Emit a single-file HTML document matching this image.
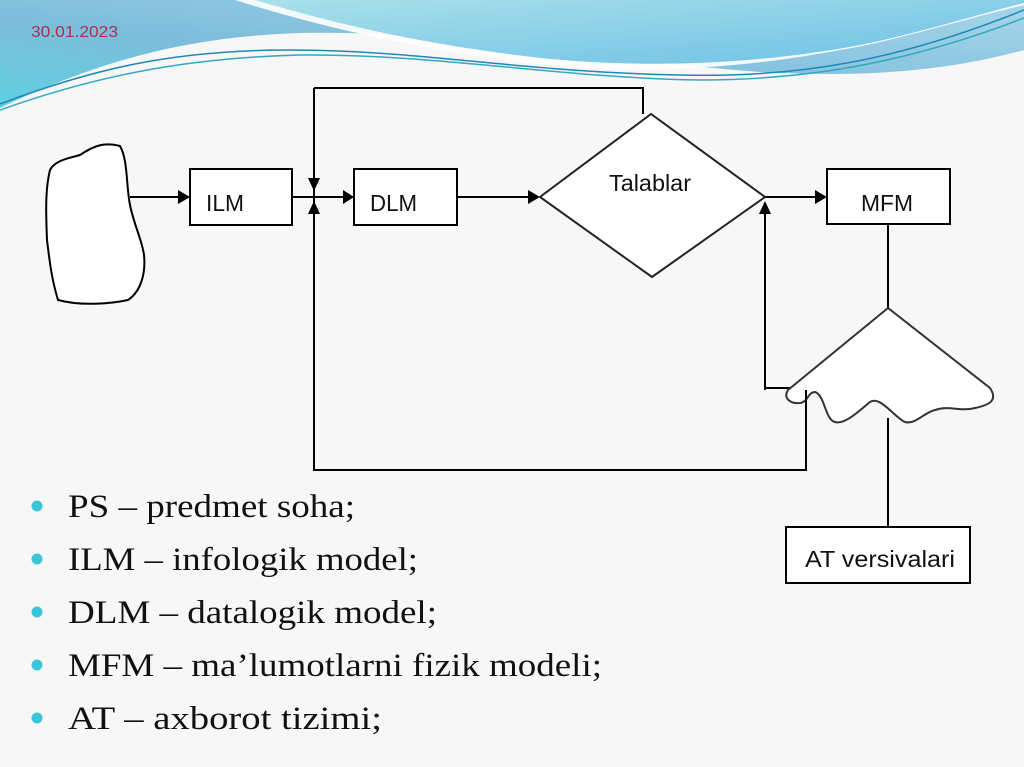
<!DOCTYPE html>
<html><head><meta charset="utf-8"><style>
html,body{margin:0;padding:0;width:1024px;height:767px;overflow:hidden;background:#f7f7f7}
svg{position:absolute;left:0;top:0}
</style></head><body>
<svg width="1024" height="767" viewBox="0 0 1024 767">
<defs>
<linearGradient id="g1" x1="0" y1="1" x2="1" y2="0">
<stop offset="0" stop-color="#5fd0e0"/><stop offset="0.4" stop-color="#7cbddb"/><stop offset="1" stop-color="#a8d6ea"/>
</linearGradient>
<linearGradient id="g2" x1="0" y1="0" x2="1" y2="1">
<stop offset="0" stop-color="#a9e0ea"/><stop offset="1" stop-color="#6cc0e6"/>
</linearGradient>
</defs>
<rect width="1024" height="767" fill="#f7f7f7"/>
<path d="M0,0 H1024 V50 C950,70 870,78 760,72 C600,60 450,30 300,33 C170,37 80,70 0,108 Z" fill="url(#g1)"/>
<path d="M235,0 C330,30 420,48 520,62 C650,78 760,65 840,50 C900,40 960,20 1024,5 V0 Z" fill="#ffffff" opacity="0.9"/>
<path d="M255,0 C350,28 430,45 540,58 C660,70 770,62 860,45 C920,33 975,15 1024,3 V0 Z" fill="url(#g2)"/>
<path d="M0,104 C90,70 170,50 290,50 C420,50 520,72 680,75 C800,78 900,60 1024,10" fill="none" stroke="#1e88b8" stroke-width="1.5"/>
<path d="M0,110 C90,78 180,58 300,55 C440,54 560,78 700,80 C820,80 920,58 1024,18" fill="none" stroke="#33aabb" stroke-width="1.5"/>
<text x="31" y="37" font-family="Liberation Sans, sans-serif" font-size="16" fill="#b0304a" textLength="87" lengthAdjust="spacingAndGlyphs">30.01.2023</text>

<g stroke="#000" stroke-width="2" fill="none">
<path d="M314,88 H643 V114"/>
<path d="M314,88 V470 H806 V390"/>
<path d="M765,390 V205"/>
<path d="M765,388 H792"/>
<path d="M888,224 V308"/>
<path d="M888,418 V527"/>
<path d="M130,197 H185"/>
<path d="M292,197 H350"/>
<path d="M457,197 H535"/>
<path d="M765,197 H822"/>
</g>
<g fill="#000">
<polygon points="178,190 190,197 178,204"/>
<polygon points="343,190 354,197 343,204"/>
<polygon points="528,190 540,197 528,204"/>
<polygon points="815,190 827,197 815,204"/>
<polygon points="308,178 320,178 314,191"/>
<polygon points="308,214 320,214 314,201"/>
<polygon points="759,214 771,214 765,201"/>
</g>
<path d="M80,155 C95,145 105,142 120,146 C128,160 126,185 130,205 C134,225 142,240 144,255 C146,275 140,292 128,300 C110,304 80,306 58,300 C52,280 50,265 47,240 C46,215 45,190 50,170 C55,160 70,158 80,155 Z" fill="#fff" stroke="#000" stroke-width="2"/>
<rect x="190" y="169" width="102" height="56" fill="#fff" stroke="#000" stroke-width="2"/>
<rect x="354" y="169" width="103" height="56" fill="#fff" stroke="#000" stroke-width="2"/>
<rect x="827" y="169" width="123" height="55" fill="#fff" stroke="#000" stroke-width="2"/>
<polygon points="651,114 765,197 652,277 540,197" fill="#fff" stroke="#222" stroke-width="2"/>
<path d="M888,308 L990,388 C998,400 990,405 975,408 C960,412 950,405 935,410 C925,412 915,425 905,422 C895,418 880,395 870,402 C860,410 845,425 835,422 C825,420 825,395 815,392 C808,392 808,402 800,403 C790,404 783,398 788,390 Z" fill="#fff" stroke="#333" stroke-width="2"/>
<path d="M806,390 V470" stroke="#000" stroke-width="2"/>
<rect x="786" y="527" width="184" height="56" fill="#fff" stroke="#000" stroke-width="2"/>
<g font-family="Liberation Sans, sans-serif" font-size="23" fill="#111">
<text x="206" y="211" textLength="38" lengthAdjust="spacingAndGlyphs">ILM</text>
<text x="370" y="211" textLength="47" lengthAdjust="spacingAndGlyphs">DLM</text>
<text x="609" y="191" textLength="82" lengthAdjust="spacingAndGlyphs">Talablar</text>
<text x="861" y="211" textLength="52" lengthAdjust="spacingAndGlyphs">MFM</text>
<text x="805" y="567" textLength="150" lengthAdjust="spacingAndGlyphs">AT versivalari</text>
</g>
<g fill="#3cc5d6">
<circle cx="37" cy="506" r="5.5"/><circle cx="37" cy="559" r="5.5"/><circle cx="37" cy="612" r="5.5"/><circle cx="37" cy="665" r="5.5"/><circle cx="37" cy="718" r="5.5"/>
</g>
<g font-family="Liberation Serif, serif" font-size="33" fill="#111">
<text x="68" y="517" textLength="287" lengthAdjust="spacingAndGlyphs">PS – predmet soha;</text>
<text x="68" y="570" textLength="350" lengthAdjust="spacingAndGlyphs">ILM – infologik model;</text>
<text x="68" y="623" textLength="369" lengthAdjust="spacingAndGlyphs">DLM – datalogik model;</text>
<text x="68" y="676" textLength="534" lengthAdjust="spacingAndGlyphs">MFM – ma’lumotlarni fizik modeli;</text>
<text x="68" y="729" textLength="314" lengthAdjust="spacingAndGlyphs">AT – axborot tizimi;</text>
</g>
</svg>
</body></html>
